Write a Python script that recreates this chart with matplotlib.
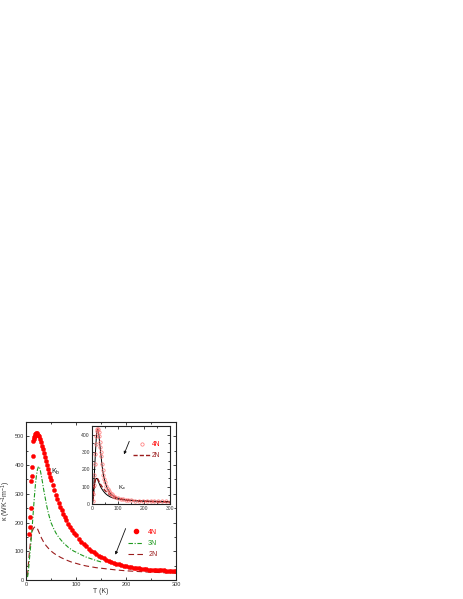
import matplotlib
matplotlib.use("Agg")
import matplotlib.pyplot as plt
from matplotlib.ticker import MultipleLocator
from matplotlib.lines import Line2D

plt.rcParams['font.family'] = ['Liberation Sans', 'DejaVu Sans']
plt.rcParams['mathtext.fontset'] = 'custom'
plt.rcParams['mathtext.rm'] = 'Liberation Sans'
plt.rcParams['mathtext.it'] = 'Liberation Sans'

# ---------------- main panel data (kappa_b) ----------------
T_4N = [6, 7, 8, 9, 10, 11, 12, 13, 14, 15, 16, 17, 18, 20, 22,
        24, 26, 28, 30, 32, 34, 36, 38, 40, 42, 44, 46, 48, 50,
        53, 56, 59, 62, 65, 68, 71, 74, 77, 80, 84, 88, 92, 96, 100,
        105, 110, 115, 120, 125, 130, 135, 140, 145, 150, 155, 160, 165,
        170, 175, 180, 185, 190, 195, 200, 205, 210, 215, 220, 225, 230,
        235, 240, 245, 250, 255, 260, 265, 270, 275, 280, 285, 290, 295, 300]
K_4N = [160, 185, 218, 252, 345, 362, 395, 430, 485, 492, 498, 503, 507, 510, 510,
        506, 500, 491, 480, 468, 455, 442, 428, 414, 400, 386, 373, 360, 347,
        329, 312, 296, 281, 267, 254, 242, 230, 219, 209, 196, 185, 174, 164, 155,
        144, 134, 125, 117, 109, 102, 96, 90, 85, 80, 75, 71, 67,
        63, 60, 57, 54, 52, 50, 48, 46, 44.5, 43, 42, 40.5, 39.5,
        38.5, 37.5, 36.5, 36, 35.5, 35, 34.5, 34, 33.5, 33, 32.5, 32, 31.5, 31]

T_3N = [3, 5, 7, 9, 11, 13, 15, 17, 19, 21, 23, 25, 27, 29, 31, 33, 35, 38, 41,
        44, 47, 50, 55, 60, 65, 70, 75, 80, 85, 90, 95, 100, 110, 120, 130, 140, 150]
K_3N = [10, 35, 75, 112, 155, 200, 248, 295, 335, 365, 385, 395, 392, 378, 360, 340,
        318, 290, 262, 238, 218, 200, 180, 163, 150, 139, 129, 121, 113, 107, 101,
        97, 88, 80, 74, 68, 63]

T_2N = [3, 5, 7, 9, 11, 13, 15, 17, 19, 21, 23, 25, 28, 31, 35, 40, 45, 50, 55, 60,
        70, 80, 90, 100, 110, 120, 140, 160, 180, 200, 220, 240, 260, 280, 300]
K_2N = [15, 60, 100, 135, 158, 172, 180, 184, 185, 183, 178, 170, 158, 146, 133, 120,
        110, 101, 94, 88, 78, 70, 63, 58, 53, 49, 43, 39, 35, 32, 30, 28, 26.5, 25, 24]

# ---------------- inset data (kappa_c) ----------------
Ti_4N = [3, 5, 7, 9, 11, 13, 15, 17, 19, 21, 23, 25, 27, 29, 31, 33, 35, 38, 41, 44,
         47, 50, 55, 60, 65, 70, 75, 80, 90, 100, 110, 120, 130, 140, 150, 165, 180,
         195, 210, 225, 240, 255, 270, 285, 300]
Ki_4N = [20, 60, 110, 170, 230, 290, 345, 390, 420, 432, 430, 415, 390, 360, 330, 300,
         275, 230, 195, 168, 146, 128, 105, 88, 74, 63, 55, 49, 40, 34, 30, 27, 25, 23,
         22, 20, 19, 18, 17, 16.5, 16, 15.5, 15, 14.5, 14]

Ti_2N = [3, 5, 7, 9, 11, 13, 15, 17, 19, 21, 23, 25, 28, 31, 35, 40, 45, 50, 55, 60,
         70, 80, 90, 100, 120, 140, 160, 180, 200, 225, 250, 275, 300]
Ki_2N = [15, 45, 80, 110, 130, 142, 148, 150, 150, 147, 142, 136, 127, 118, 108, 97,
         87, 78, 70, 63, 52, 44, 38, 33, 27, 23, 20, 18, 16, 14.5, 13, 12, 11]
Ki_2N_fit = [10, 40, 75, 105, 125, 138, 145, 148, 147, 143, 136, 128, 117, 106, 94, 82,
             72, 63, 56, 50, 41, 35, 31, 28, 24, 21, 19, 17, 16, 14.5, 13, 12, 11]

RED = '#ff0000'
GREEN = '#1f9a1f'
DARKRED = '#9b1c1c'
PINK = '#ff7070'
TXT = '#333333'

W, H = 463, 599
fig = plt.figure(figsize=(W / 100, H / 100), dpi=100)

def style(ax, fs):
    for s in ax.spines.values():
        s.set_linewidth(0.8)
        s.set_color('#222222')
    ax.tick_params(which='both', direction='in', top=True, right=True,
                   labelsize=fs, labelcolor=TXT, pad=1.5, width=0.6, color='#222222')
    ax.tick_params(which='major', length=2.2)
    ax.tick_params(which='minor', length=1.2)

# main axes
ax = fig.add_axes([26 / W, 1 - 580 / H, 150 / W, 158 / H])
ax.plot(T_2N, K_2N, color=DARKRED, lw=0.8, ls=(0, (5, 3)))
ax.plot(T_3N, K_3N, color=GREEN, lw=0.8, ls=(0, (4, 1.5, 1, 1.5)))
ax.plot(T_4N, K_4N, ls='none', marker='o', ms=3.0, mfc=RED, mec=RED, mew=0.3)
ax.set_xlim(0, 300)
ax.set_ylim(0, 550)
ax.xaxis.set_major_locator(MultipleLocator(100))
ax.xaxis.set_minor_locator(MultipleLocator(50))
ax.yaxis.set_major_locator(MultipleLocator(100))
ax.yaxis.set_minor_locator(MultipleLocator(50))
style(ax, 4)
ax.set_xlabel('T (K)', fontsize=5, color=TXT, labelpad=1)
ax.set_ylabel(r'$\kappa$ (WK$^{-1}$m$^{-1}$)', fontsize=5, color=TXT, labelpad=1)
ax.text(0.197, 0.684, r'K$_b$', transform=ax.transAxes, fontsize=5, color='#111111',
        ha='center', va='center')
ax.annotate('', xy=(0.589, 0.144), xytext=(0.671, 0.342), xycoords='axes fraction',
            arrowprops=dict(arrowstyle='-|>', color='#111111', lw=0.6,
                            mutation_scale=4))
h_main = [Line2D([], [], ls='none', marker='o', ms=3.0, mfc=RED, mec=RED),
          Line2D([], [], color=GREEN, lw=0.8, ls=(0, (4, 1.5, 1, 1.5))),
          Line2D([], [], color=DARKRED, lw=0.8, ls=(0, (5, 3)))]
leg = ax.legend(h_main, ['4N', '3N', '2N'], loc='center left',
                bbox_to_anchor=(0.68, 0.231), frameon=False, fontsize=5,
                handlelength=2.2, handletextpad=0.7, borderpad=0, borderaxespad=0,
                labelspacing=0.6, numpoints=1)
for t, c in zip(leg.get_texts(), [RED, GREEN, DARKRED]):
    t.set_color(c)

# inset axes
ai = fig.add_axes([92 / W, 1 - 504 / H, 78 / W, 78 / H])
ai.plot(Ti_4N, Ki_4N, color='black', lw=0.7)
ai.plot(Ti_2N, Ki_2N_fit, color='black', lw=0.7)
ai.plot(Ti_2N, Ki_2N, color=DARKRED, lw=1.0, ls=(0, (3, 1.5)))
ai.plot(Ti_4N, Ki_4N, ls='none', marker='o', ms=2.4, mfc='none', mec=PINK, mew=0.5)
ai.set_xlim(0, 300)
ai.set_ylim(0, 450)
ai.xaxis.set_major_locator(MultipleLocator(100))
ai.xaxis.set_minor_locator(MultipleLocator(50))
ai.yaxis.set_major_locator(MultipleLocator(100))
ai.yaxis.set_minor_locator(MultipleLocator(50))
style(ai, 3.6)
ai.text(0.391, 0.205, r'K$_c$', transform=ai.transAxes, fontsize=4.5, color='#111111',
        ha='center', va='center')
ai.annotate('', xy=(0.397, 0.603), xytext=(0.491, 0.837), xycoords='axes fraction',
            arrowprops=dict(arrowstyle='-|>', color='#111111', lw=0.6,
                            mutation_scale=4))
h_in = [Line2D([], [], ls='none', marker='o', ms=2.4, mfc='none', mec=PINK, mew=0.5),
        Line2D([], [], color=DARKRED, lw=1.0, ls=(0, (3, 1.5)))]
leg2 = ai.legend(h_in, ['4N', '2N'], loc='center left', bbox_to_anchor=(0.526, 0.692),
                 frameon=False, fontsize=4.8, handlelength=2.6, handletextpad=0.2,
                 borderpad=0, borderaxespad=0, labelspacing=0.6, numpoints=1)
for t, c in zip(leg2.get_texts(), [RED, DARKRED]):
    t.set_color(c)

fig.savefig('out.png', dpi=100)
